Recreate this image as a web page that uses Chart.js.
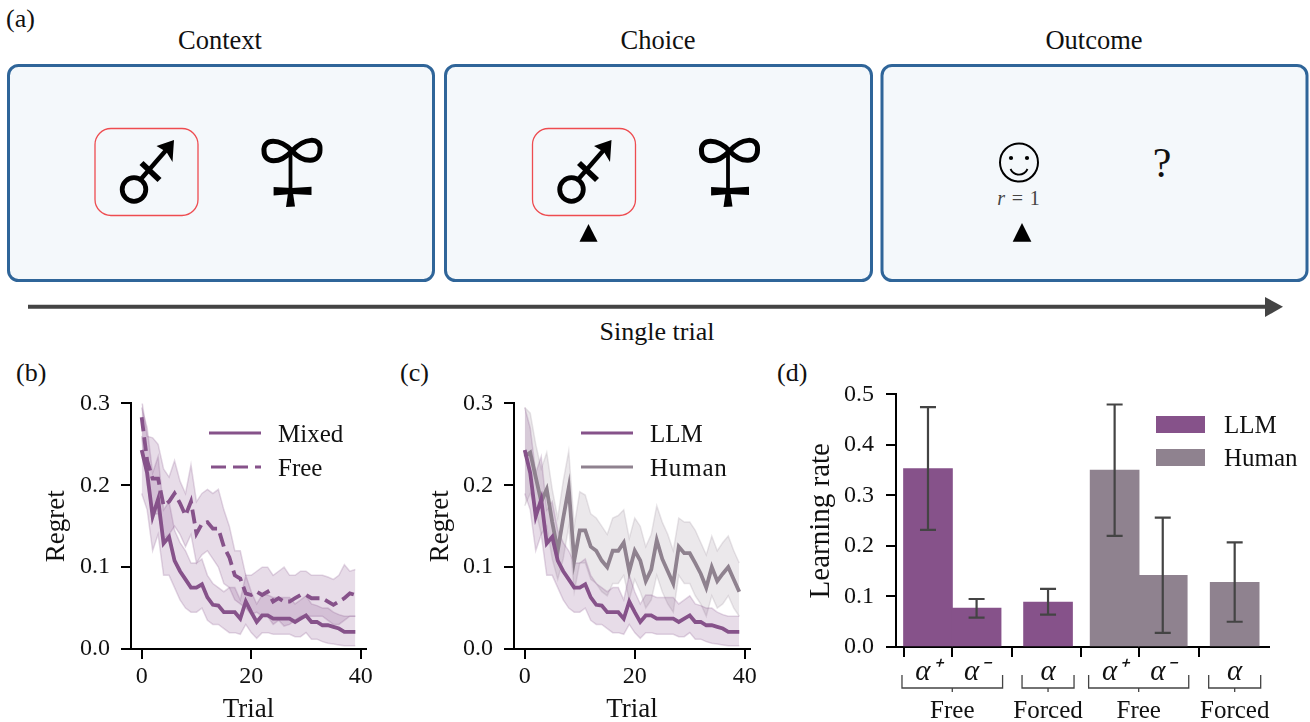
<!DOCTYPE html>
<html>
<head>
<meta charset="utf-8">
<title>Single trial, regret and learning rates</title>
<script src="https://cdn.jsdelivr.net/npm/chart.js@4"></script>
<style>
  body { margin: 0; background: #fff; overflow: hidden; }
  #page { position: relative; width: 1310px; height: 722px; }
  svg, .panel { position: absolute; }
  svg { left: 0; top: 0; }
  text { font-family: "Liberation Serif", serif; fill: #111; }
  .box { fill: #f4f8fb; stroke: #2f6599; stroke-width: 3; }
  .pick { fill: none; stroke: #ee4c50; stroke-width: 1.3; }
</style>
</head>
<body>
<div id="page">
  <svg width="1310" height="722">
    <defs>
      <g id="mars">
        <circle cx="134" cy="189.5" r="11.8" fill="none" stroke="#000" stroke-width="4.8"/>
        <path d="M141 179 L168 148" stroke="#000" stroke-width="4.4" fill="none"/>
        <path d="M141.5 163 L159.5 180" stroke="#000" stroke-width="5.8" fill="none"/>
        <path d="M174 140 L172.5 162 L166.5 152 L156.5 146 Z" fill="#000"/>
      </g>
      <g id="ribbon">
        <path d="M292 151 C280 138 263 138 264 151 C264 164 280 164 292 151 C304 138 321 136 320 150 C320 163 304 164 292 151 Z" fill="none" stroke="#000" stroke-width="5"/>
        <path d="M290.5 153 L290.5 190" stroke="#000" stroke-width="3.8"/>
        <path d="M273.6 187 L292 188 L311.5 186.8 L311.5 195 L292 194 L273.6 195.5 Z" fill="#000"/>
        <path d="M288 193 L293 193 L295 206.5 L286 207 Z" fill="#000"/>
      </g>
    </defs>

    <text x="6" y="27" font-size="26">(a)</text>
    <text x="220" y="49" font-size="26.5" text-anchor="middle">Context</text>
    <text x="658" y="49" font-size="26.5" text-anchor="middle">Choice</text>
    <text x="1094" y="49" font-size="26.5" text-anchor="middle">Outcome</text>

    <rect class="box" x="8.5" y="65.5" width="425" height="215" rx="10"/>
    <rect class="box" x="445.5" y="65.5" width="426" height="215" rx="10"/>
    <rect class="box" x="882" y="65.5" width="425" height="215" rx="10"/>

    <rect class="pick" x="95" y="128.5" width="103" height="87" rx="16"/>
    <rect class="pick" x="532.5" y="128.5" width="103" height="87" rx="16"/>
    <use href="#mars"/>
    <use href="#ribbon"/>
    <use href="#mars" x="437.5"/>
    <use href="#ribbon" x="437.5"/>
    <path d="M588.5 224 L597.6 241.7 L579.5 241.7 Z" fill="#000"/>

    <circle cx="1019" cy="162.5" r="19" fill="none" stroke="#000" stroke-width="2"/>
    <circle cx="1011" cy="158" r="2.1" fill="#000"/>
    <circle cx="1027" cy="158" r="2.1" fill="#000"/>
    <path d="M1010.5 169 C1014 176.5 1024 176.5 1027.5 169" fill="none" stroke="#000" stroke-width="1.8"/>
    <text x="1019" y="205" font-size="20" letter-spacing="0.9" text-anchor="middle" style="fill:#444"><tspan font-style="italic">r</tspan> = 1</text>
    <path d="M1022 223 L1031.4 241.7 L1012.7 241.7 Z" fill="#000"/>
    <text x="1162" y="177" font-size="42" text-anchor="middle">?</text>

    <path d="M28 306.7 L1267 306.7" stroke="#444" stroke-width="4"/>
    <path d="M1265 297 L1283 306.7 L1265 317 Z" fill="#444"/>
    <text x="657" y="340" font-size="26" text-anchor="middle">Single trial</text>

    <text x="16" y="381" font-size="26">(b)</text>
    <text x="400" y="381" font-size="26">(c)</text>
    <text x="777" y="381" font-size="26">(d)</text>
  </svg>
  <div class="panel" style="left:0;top:378px;width:385px;height:344px"><canvas id="chartB"></canvas></div>
  <div class="panel" style="left:385px;top:378px;width:385px;height:344px"><canvas id="chartC"></canvas></div>
  <div class="panel" style="left:770px;top:368px;width:540px;height:354px"><canvas id="chartD"></canvas></div>
</div>

<script>
// Regret per trial
const mixedMean = [.243,.215,.162,.183,.129,.137,.108,.095,.085,.075,.075,.079,.063,.054,.053,.045,.045,.045,.037,.058,.045,.033,.041,.041,.037,.037,.037,.037,.033,.037,.041,.033,.033,.029,.029,.027,.025,.021,.021,.021];
const mixedUpper = [.295,.27,.215,.235,.17,.18,.145,.13,.12,.105,.105,.11,.09,.08,.075,.07,.075,.075,.06,.09,.07,.055,.066,.066,.063,.063,.063,.063,.055,.06,.065,.055,.053,.05,.05,.045,.042,.04,.04,.04];
const mixedLower = [.19,.17,.12,.14,.09,.09,.075,.06,.05,.045,.045,.05,.035,.03,.03,.025,.02,.02,.018,.03,.02,.013,.02,.02,.018,.018,.018,.018,.015,.015,.02,.012,.012,.009,.007,.006,.005,.004,.004,.004];

const freeMean = [.283,.23,.208,.208,.175,.18,.19,.178,.163,.18,.141,.153,.155,.147,.147,.125,.112,.09,.086,.068,.066,.07,.066,.07,.058,.062,.058,.058,.062,.066,.066,.062,.062,.062,.058,.054,.058,.062,.068,.066];
const freeUpper = [.305,.26,.258,.25,.22,.21,.23,.205,.19,.225,.18,.19,.195,.19,.195,.17,.15,.12,.12,.09,.09,.095,.1,.1,.09,.095,.1,.09,.09,.095,.095,.09,.09,.09,.088,.085,.09,.103,.095,.097];
const freeLower = [.26,.2,.165,.165,.135,.14,.15,.14,.125,.14,.105,.115,.12,.11,.1,.08,.075,.06,.055,.05,.042,.045,.04,.04,.03,.035,.028,.03,.035,.04,.04,.04,.04,.04,.035,.03,.03,.035,.04,.04];

const humanMean = [.235,.24,.21,.18,.195,.155,.12,.16,.197,.108,.145,.145,.125,.12,.108,.1,.12,.12,.13,.095,.12,.108,.083,.097,.133,.11,.095,.08,.125,.117,.117,.105,.092,.075,.1,.083,.092,.1,.085,.07];
const humanUpper = [.295,.288,.25,.22,.24,.195,.16,.205,.242,.15,.192,.188,.165,.16,.15,.14,.16,.163,.17,.135,.16,.15,.125,.14,.175,.155,.14,.12,.16,.155,.155,.145,.13,.115,.138,.12,.13,.138,.12,.105];
const humanLower = [.175,.19,.17,.14,.15,.11,.085,.11,.15,.07,.105,.105,.085,.08,.07,.065,.08,.08,.09,.06,.085,.07,.05,.06,.09,.07,.055,.045,.09,.08,.08,.065,.055,.04,.065,.05,.055,.065,.05,.04];

const trialTicks = [0, 20, 40];
const regretMax = 0.3;

// Learning rates, bar positions are in bar widths
const barPositions = [0, 1, 2.47, 3.84, 4.83, 6.31];
const alphaLabels = ['α⁺', 'α⁻', 'α', 'α⁺', 'α⁻', 'α'];
const llmRates = [.353, .077, .089];
const humanRates = [.35, .142, .128];
const errorLow = [.232, .058, .064, .22, .028, .05];
const errorHigh = [.475, .095, .115, .48, .256, .207];
const groupLabels = ['Free', 'Forced', 'Free', 'Forced'];
const groupFirst = [0, 2, 3, 5];
const groupLast = [1, 2, 4, 5];

const purple = '#86528a';
const grey = '#8f828f';
const serif = '"Liberation Serif", serif';

function toPoints(values) {
  return values.map((y, x) => ({ x, y }));
}

function meanLine(label, values, color, dash) {
  return {
    label,
    data: toPoints(values),
    borderColor: color,
    borderWidth: 3.8,
    borderDash: dash || [],
    pointRadius: 0,
    tension: 0,
    fill: false
  };
}

// upper edge fills down to the lower edge, which must come right after it
function bandEdges(upper, lower, rgb, alpha) {
  const edge = {
    data: toPoints(lower),
    borderColor: `rgba(${rgb}, ${alpha + 0.02})`,
    borderWidth: 1.5,
    pointRadius: 0,
    tension: 0,
    fill: false
  };
  return [
    { ...edge, data: toPoints(upper), fill: '+1', backgroundColor: `rgba(${rgb}, ${alpha})` },
    edge
  ];
}

function lineLegend(items) {
  return {
    id: 'lineLegend',
    afterDraw(chart) {
      const ctx = chart.ctx;
      ctx.save();
      items.forEach(item => {
        ctx.beginPath();
        ctx.strokeStyle = item.color;
        ctx.lineWidth = 3;
        ctx.setLineDash(item.dash || []);
        ctx.moveTo(item.x1, item.y);
        ctx.lineTo(item.x2, item.y);
        ctx.stroke();
        ctx.setLineDash([]);
        ctx.fillStyle = '#111';
        ctx.font = `25px ${serif}`;
        ctx.letterSpacing = item.spacing || '0px';
        ctx.textBaseline = 'alphabetic';
        ctx.fillText(item.label, item.x2 + 17, item.y + 9);
      });
      ctx.restore();
    }
  };
}

function axisStyle(extra) {
  return {
    border: { color: '#000', width: 2 },
    grid: { drawOnChartArea: false, color: '#000', lineWidth: 2, tickLength: 10, tickColor: '#000', tickWidth: 2 },
    ...extra
  };
}

function createRegretChart(id, datasets, legendItems, yWidth, rightPad, titlePad) {
  new Chart(document.getElementById(id), {
    type: 'line',
    data: { datasets },
    plugins: [lineLegend(legendItems)],
    options: {
      responsive: true,
      maintainAspectRatio: false,
      animation: false,
      layout: { padding: { top: 0, right: rightPad, bottom: 0, left: 0 } },
      plugins: { legend: { display: false }, tooltip: { enabled: false } },
      scales: {
        x: axisStyle({
          type: 'linear',
          min: -1.95,
          max: 40.95,
          afterBuildTicks: axis => { axis.ticks = trialTicks.map(value => ({ value })); },
          afterFit: axis => { axis.height = 73; },
          ticks: { color: '#111', font: { family: serif, size: 24 }, padding: 3, maxRotation: 0 },
          title: { display: true, text: 'Trial', color: '#111', font: { family: serif, size: 27, lineHeight: 0.9 }, padding: { top: 0, bottom: 0 } }
        }),
        y: axisStyle({
          min: 0,
          max: regretMax,
          afterFit: axis => { axis.width = yWidth; },
          ticks: { stepSize: 0.1, color: '#111', font: { family: serif, size: 24 }, padding: 11, callback: v => v.toFixed(1) },
          title: { display: true, text: 'Regret', color: '#111', font: { family: serif, size: 27 }, padding: { top: titlePad, bottom: 0 } }
        })
      }
    }
  });
}

createRegretChart('chartB', [
  meanLine('Mixed', mixedMean, purple),
  meanLine('Free', freeMean, purple, [14, 6]),
  ...bandEdges(mixedUpper, mixedLower, '134, 82, 138', 0.2),
  ...bandEdges(freeUpper, freeLower, '134, 82, 138', 0.2)
], [
  { label: 'Mixed', color: purple, x1: 209, x2: 261, y: 55 },
  { label: 'Free', color: purple, dash: [15, 7], x1: 211, x2: 261, y: 89 }
], 131, 19, 41);

createRegretChart('chartC', [
  meanLine('LLM', mixedMean, purple),
  meanLine('Human', humanMean, grey),
  ...bandEdges(mixedUpper, mixedLower, '134, 82, 138', 0.2),
  ...bandEdges(humanUpper, humanLower, '143, 130, 143', 0.18)
], [
  { label: 'LLM', color: purple, x1: 196, x2: 248, y: 55 },
  { label: 'Human', color: grey, x1: 196, x2: 248, spacing: '0.8px', y: 89 }
], 129, 20, 40);

// error bars and the Free / Forced brackets follow the chart's own scales
const errorBars = {
  id: 'errorBars',
  afterDatasetsDraw(chart) {
    const { ctx, scales: { x, y } } = chart;
    ctx.save();
    ctx.strokeStyle = '#444';
    ctx.lineWidth = 2.2;
    barPositions.forEach((pos, i) => {
      const px = x.getPixelForValue(pos);
      const low = y.getPixelForValue(errorLow[i]);
      const high = y.getPixelForValue(errorHigh[i]);
      ctx.beginPath();
      ctx.moveTo(px, low);
      ctx.lineTo(px, high);
      ctx.moveTo(px - 8, low);
      ctx.lineTo(px + 8, low);
      ctx.moveTo(px - 8, high);
      ctx.lineTo(px + 8, high);
      ctx.stroke();
    });
    ctx.restore();
  }
};

const groupBrackets = {
  id: 'groupBrackets',
  afterDraw(chart) {
    const { ctx, scales: { x }, chartArea } = chart;
    const top = chartArea.bottom + 28;
    const low = chartArea.bottom + 41;
    ctx.save();
    ctx.strokeStyle = '#444';
    ctx.lineWidth = 1.3;
    ctx.fillStyle = '#111';
    ctx.font = `25px ${serif}`;
    ctx.textAlign = 'center';
    groupLabels.forEach((label, i) => {
      const left = x.getPixelForValue(barPositions[groupFirst[i]]) - 26;
      const right = x.getPixelForValue(barPositions[groupLast[i]]) + 26;
      const mid = (left + right) / 2;
      ctx.beginPath();
      ctx.moveTo(left, top);
      ctx.lineTo(left, low);
      ctx.lineTo(right, low);
      ctx.lineTo(right, top);
      ctx.moveTo(mid, low);
      ctx.lineTo(mid, low + 4);
      ctx.stroke();
      ctx.fillText(label, mid, chartArea.bottom + 71);
    });
    ctx.restore();
  }
};

const patchLegend = {
  id: 'patchLegend',
  afterDraw(chart) {
    const ctx = chart.ctx;
    ctx.save();
    ctx.font = `25px ${serif}`;
    chart.data.datasets.forEach((set, i) => {
      const top = 48 + i * 33;
      ctx.fillStyle = set.backgroundColor;
      ctx.fillRect(386, top, 49, 17);
      ctx.fillStyle = '#111';
      ctx.fillText(set.label, 454, top + 17);
    });
    ctx.restore();
  }
};

new Chart(document.getElementById('chartD'), {
  type: 'bar',
  data: {
    datasets: [
      { label: 'LLM', data: llmRates.map((y, i) => ({ x: barPositions[i], y })), backgroundColor: purple, barThickness: 49, grouped: false },
      { label: 'Human', data: humanRates.map((y, i) => ({ x: barPositions[i + 3], y })), backgroundColor: grey, barThickness: 49, grouped: false }
    ]
  },
  plugins: [errorBars, groupBrackets, patchLegend],
  options: {
    responsive: true,
    maintainAspectRatio: false,
    animation: false,
    layout: { padding: { top: 0, right: 41, bottom: 0, left: 0 } },
    plugins: { legend: { display: false }, tooltip: { enabled: false } },
    scales: {
      x: axisStyle({
        type: 'linear',
        offset: false,
        min: -0.658,
        max: 7.016,
        afterBuildTicks: axis => { axis.ticks = barPositions.map(value => ({ value })); },
        afterFit: axis => { axis.height = 75; },
        ticks: {
          color: '#111',
          font: { family: serif, size: 29, style: 'italic' },
          padding: -2,
          maxRotation: 0,
          autoSkip: false,
          callback: value => alphaLabels[barPositions.indexOf(value)]
        }
      }),
      y: axisStyle({
        min: 0,
        max: 0.5,
        afterFit: axis => { axis.width = 126; },
        ticks: { stepSize: 0.1, color: '#111', font: { family: serif, size: 24 }, padding: 12, callback: v => v.toFixed(1) },
        title: { display: true, text: 'Learning rate', color: '#111', font: { family: serif, size: 29 }, padding: { top: 34, bottom: 0 } }
      })
    }
  }
});
</script>
</body>
</html>
